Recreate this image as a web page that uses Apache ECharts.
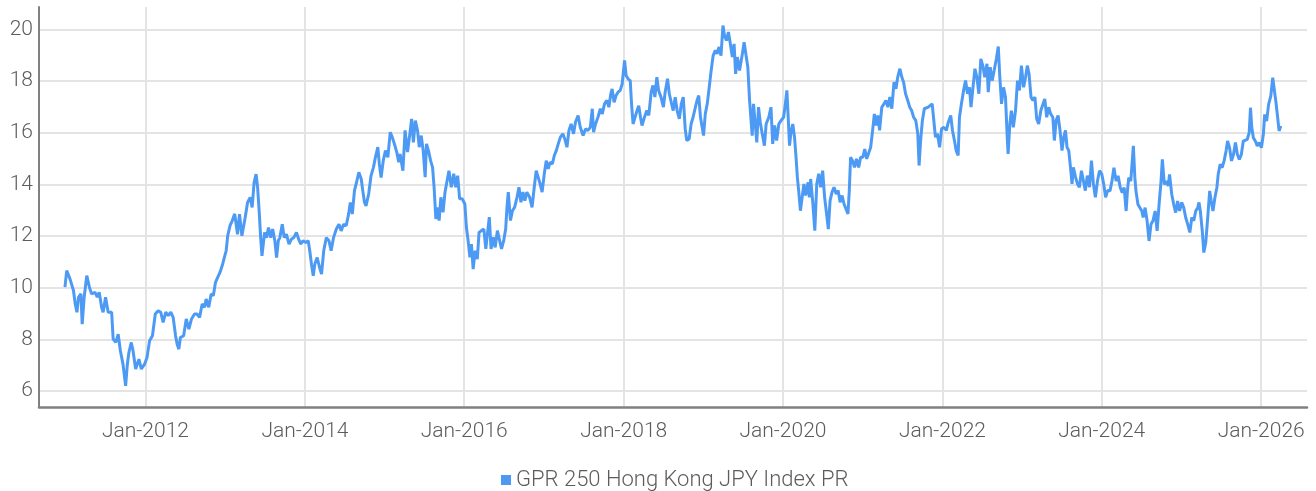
<!DOCTYPE html>
<html>
<head>
<meta charset="utf-8">
<script src="https://cdn.jsdelivr.net/npm/echarts@6/dist/echarts.min.js"></script>
<style>
html,body{margin:0;padding:0;background:#fff;}
#chart{width:1316px;height:491px;}
</style>
</head>
<body>
<div id="chart"></div>
<script>
const seriesName = 'GPR 250 Hong Kong JPY Index PR';
const xTickYears = [2012, 2014, 2016, 2018, 2020, 2022, 2024, 2026];
const monthNames = ['Jan','Feb','Mar','Apr','May','Jun','Jul','Aug','Sep','Oct','Nov','Dec'];
const yTicks = [6, 8, 10, 12, 14, 16, 18, 20];

const dates = [
'2010-12-28','2011-01-05','2011-01-20','2011-02-05','2011-02-13','2011-02-21','2011-02-28','2011-03-11','2011-03-17','2011-03-26',
'2011-04-07','2011-04-19','2011-04-29','2011-05-15','2011-05-25','2011-06-03','2011-06-14','2011-06-21','2011-07-02','2011-07-14',
'2011-07-30','2011-08-06','2011-08-18','2011-08-29','2011-09-08','2011-09-20','2011-10-02','2011-10-10','2011-10-17','2011-10-28',
'2011-11-05','2011-11-17','2011-12-02','2011-12-13','2011-12-28','2012-01-08','2012-01-20','2012-02-02','2012-02-15','2012-02-28',
'2012-03-11','2012-03-22','2012-04-03','2012-04-14','2012-04-26','2012-05-07','2012-05-18','2012-05-25','2012-06-02','2012-06-09',
'2012-06-24','2012-07-06','2012-07-18','2012-07-30','2012-08-13','2012-08-24','2012-09-05','2012-09-17','2012-09-28','2012-10-05',
'2012-10-17','2012-10-28','2012-11-07','2012-11-17','2012-11-27','2012-12-08','2012-12-20','2012-12-28','2013-01-05','2013-01-12',
'2013-01-23','2013-02-02','2013-02-13','2013-02-26','2013-03-07','2013-03-18','2013-04-02','2013-04-13','2013-04-25','2013-05-04',
'2013-05-13','2013-05-22','2013-05-29','2013-06-06','2013-06-12','2013-06-18','2013-06-24','2013-06-30','2013-07-09','2013-07-18',
'2013-07-28','2013-08-06','2013-08-16','2013-08-24','2013-09-01','2013-09-08','2013-09-19','2013-09-28','2013-10-08','2013-10-20',
'2013-10-31','2013-11-11','2013-11-23','2013-12-03','2013-12-13','2013-12-23','2014-01-05','2014-01-16','2014-01-23','2014-01-31',
'2014-02-08','2014-02-15','2014-02-26','2014-03-07','2014-03-18','2014-03-28','2014-04-09','2014-04-21','2014-05-01','2014-05-12',
'2014-05-25','2014-06-06','2014-06-16','2014-06-27','2014-07-09','2014-07-20','2014-07-28','2014-08-06','2014-08-16','2014-08-27',
'2014-09-05','2014-09-16','2014-09-23','2014-10-01','2014-10-08','2014-10-20','2014-10-31','2014-11-11','2014-11-20','2014-12-01',
'2014-12-08','2014-12-16','2014-12-26','2015-01-05','2015-01-16','2015-01-27','2015-02-05','2015-02-15','2015-02-26','2015-03-07',
'2015-03-13','2015-03-26','2015-04-05','2015-04-16','2015-04-25','2015-05-05','2015-05-13','2015-05-22','2015-06-01','2015-06-09',
'2015-06-18','2015-06-27','2015-07-06','2015-07-12','2015-07-21','2015-07-31','2015-08-09','2015-08-16','2015-08-24','2015-09-01',
'2015-09-08','2015-09-16','2015-09-26','2015-10-05','2015-10-14','2015-10-23','2015-11-03','2015-11-14','2015-11-23','2015-12-02',
'2015-12-11','2015-12-23','2016-01-04','2016-01-11','2016-01-19','2016-01-27','2016-02-03','2016-02-11','2016-02-20','2016-03-01',
'2016-03-09','2016-03-20','2016-03-31','2016-04-09','2016-04-18','2016-04-25','2016-05-03','2016-05-13','2016-05-22','2016-06-01',
'2016-06-09','2016-06-20','2016-06-30','2016-07-09','2016-07-15','2016-07-21','2016-07-31','2016-08-09','2016-08-19','2016-08-30',
'2016-09-08','2016-09-17','2016-09-26','2016-10-05','2016-10-14','2016-10-27','2016-11-07','2016-11-17','2016-11-26','2016-12-05',
'2016-12-14','2016-12-23','2017-01-02','2017-01-11','2017-01-20','2017-01-29','2017-02-08','2017-02-17','2017-02-26','2017-03-07',
'2017-03-17','2017-03-28','2017-04-06','2017-04-16','2017-04-25','2017-05-05','2017-05-16','2017-05-25','2017-06-06','2017-06-16',
'2017-06-29','2017-07-10','2017-07-21','2017-08-01','2017-08-10','2017-08-16','2017-08-25','2017-09-05','2017-09-16','2017-09-25',
'2017-10-05','2017-10-16','2017-10-25','2017-11-03','2017-11-09','2017-11-18','2017-11-27','2017-12-06','2017-12-16','2017-12-25',
'2018-01-05','2018-01-12','2018-01-21','2018-01-31','2018-02-06','2018-02-13','2018-02-22','2018-03-03','2018-03-11','2018-03-19',
'2018-03-26','2018-04-06','2018-04-17','2018-04-26','2018-05-07','2018-05-15','2018-05-24','2018-06-02','2018-06-10','2018-06-21',
'2018-07-02','2018-07-10','2018-07-21','2018-07-29','2018-08-07','2018-08-16','2018-08-25','2018-09-03','2018-09-13','2018-09-22',
'2018-10-01','2018-10-10','2018-10-17','2018-10-28','2018-11-06','2018-11-15','2018-11-24','2018-12-03','2018-12-11','2018-12-19',
'2018-12-25','2019-01-02','2019-01-10','2019-01-19','2019-01-28','2019-02-05','2019-02-15','2019-02-25','2019-03-05','2019-03-14',
'2019-03-23','2019-04-01','2019-04-08','2019-04-17','2019-04-26','2019-05-05','2019-05-14','2019-05-22','2019-05-29','2019-06-06',
'2019-06-16','2019-06-29','2019-07-07','2019-07-16','2019-07-24','2019-08-01','2019-08-09','2019-08-13','2019-08-19','2019-08-27',
'2019-09-03','2019-09-11','2019-09-19','2019-09-28','2019-10-08','2019-10-16','2019-10-28','2019-11-07','2019-11-15','2019-11-24',
'2019-12-03','2019-12-13','2019-12-23','2020-01-04','2020-01-12','2020-01-19','2020-01-25','2020-01-31','2020-02-08','2020-02-15',
'2020-02-23','2020-03-01','2020-03-07','2020-03-13','2020-03-21','2020-03-29','2020-04-06','2020-04-14','2020-04-25','2020-05-01',
'2020-05-07','2020-05-16','2020-05-26','2020-06-04','2020-06-13','2020-06-22','2020-07-01','2020-07-10','2020-07-19','2020-07-27',
'2020-08-04','2020-08-13','2020-08-22','2020-09-01','2020-09-10','2020-09-19','2020-09-28','2020-10-07','2020-10-16','2020-10-25',
'2020-10-31','2020-11-06','2020-11-15','2020-11-24','2020-12-03','2020-12-13','2020-12-22','2021-01-01','2021-01-10','2021-01-19',
'2021-01-28','2021-02-06','2021-02-15','2021-02-23','2021-03-03','2021-03-11','2021-03-19','2021-03-29','2021-04-08','2021-04-17',
'2021-04-26','2021-05-05','2021-05-14','2021-05-24','2021-06-02','2021-06-10','2021-06-20','2021-06-29','2021-07-07','2021-07-16',
'2021-07-26','2021-08-04','2021-08-13','2021-08-22','2021-09-01','2021-09-10','2021-09-16','2021-09-23','2021-10-01','2021-10-10',
'2021-10-19','2021-10-28','2021-11-15','2021-11-24','2021-11-30','2021-12-09','2021-12-19','2021-12-28','2022-01-08','2022-01-19',
'2022-01-28','2022-02-08','2022-02-16','2022-02-25','2022-03-05','2022-03-14','2022-03-20','2022-03-29','2022-04-08','2022-04-17',
'2022-04-26','2022-05-05','2022-05-12','2022-05-21','2022-05-30','2022-06-08','2022-06-17','2022-06-26','2022-07-05','2022-07-14',
'2022-07-24','2022-07-30','2022-08-08','2022-08-17','2022-08-26','2022-09-05','2022-09-14','2022-09-21','2022-09-29','2022-10-08',
'2022-10-17','2022-10-25','2022-10-29','2022-11-06','2022-11-13','2022-11-22','2022-12-02','2022-12-11','2022-12-20','2022-12-29',
'2023-01-08','2023-01-17','2023-01-25','2023-02-02','2023-02-11','2023-02-20','2023-03-01','2023-03-09','2023-03-18','2023-03-28',
'2023-04-06','2023-04-15','2023-04-24','2023-05-03','2023-05-12','2023-05-22','2023-05-29','2023-06-06','2023-06-15','2023-06-24',
'2023-07-03','2023-07-11','2023-07-19','2023-07-26','2023-08-03','2023-08-11','2023-08-18','2023-08-24','2023-09-03','2023-09-12',
'2023-09-21','2023-09-30','2023-10-09','2023-10-18','2023-10-27','2023-11-06','2023-11-15','2023-11-24','2023-12-03','2023-12-13',
'2023-12-22','2024-01-01','2024-01-10','2024-01-19','2024-01-28','2024-02-08','2024-02-17','2024-02-26','2024-03-07','2024-03-16',
'2024-03-26','2024-04-04','2024-04-13','2024-04-22','2024-04-28','2024-05-04','2024-05-13','2024-05-19','2024-05-25','2024-06-01',
'2024-06-06','2024-06-15','2024-06-24','2024-07-03','2024-07-09','2024-07-18','2024-07-27','2024-08-05','2024-08-14','2024-08-23',
'2024-09-02','2024-09-11','2024-09-20','2024-09-29','2024-10-05','2024-10-14','2024-10-23','2024-11-01','2024-11-07','2024-11-17',
'2024-11-26','2024-12-05','2024-12-14','2024-12-23','2025-01-02','2025-01-11','2025-01-20','2025-01-29','2025-02-08','2025-02-17',
'2025-02-26','2025-03-07','2025-03-16','2025-03-22','2025-03-28','2025-04-06','2025-04-13','2025-04-22','2025-05-01','2025-05-10',
'2025-05-17','2025-05-25','2025-06-03','2025-06-12','2025-06-18','2025-06-27','2025-07-06','2025-07-15','2025-07-24','2025-07-31',
'2025-08-09','2025-08-18','2025-08-27','2025-09-05','2025-09-14','2025-09-23','2025-10-02','2025-10-11','2025-10-20','2025-10-29',
'2025-11-07','2025-11-13','2025-11-19','2025-11-26','2025-12-05','2025-12-14','2025-12-23','2026-01-02','2026-01-11','2026-01-17',
'2026-01-26','2026-02-04','2026-02-14','2026-02-23','2026-03-03','2026-03-09','2026-03-16','2026-03-24','2026-04-01'
];

const values = [
10.02,10.66,10.34,9.89,9.37,9.05,9.63,9.76,8.59,9.63,
10.47,10.02,9.76,9.82,9.63,9.82,9.24,9.05,9.63,9.05,
9.05,8.01,7.88,8.20,7.56,7.04,6.20,7.04,7.49,7.88,
7.56,6.85,7.23,6.85,7.04,7.30,7.95,8.14,8.98,9.11,
9.05,8.66,9.05,8.92,9.05,8.85,8.14,7.82,7.62,8.07,
8.14,8.79,8.40,8.79,8.98,8.98,8.85,9.37,9.24,9.56,
9.24,9.76,9.69,10.21,10.40,10.60,10.92,11.18,11.44,12.02,
12.41,12.60,12.86,12.07,12.85,12.01,12.72,13.30,13.50,13.11,
14.08,14.40,13.89,12.85,11.94,11.23,11.69,12.14,11.94,12.33,
11.94,12.27,11.82,11.17,11.82,11.94,12.46,11.94,12.07,11.69,
11.88,11.94,12.14,11.88,11.69,11.82,11.75,11.82,11.43,10.91,
10.46,10.91,11.17,10.85,10.53,11.43,11.94,11.82,11.43,11.94,
12.27,12.46,12.20,12.46,12.40,12.85,13.30,12.85,13.76,14.14,
14.47,14.21,13.76,13.30,13.17,13.63,14.34,14.66,15.05,15.44,
14.79,14.27,14.92,15.31,15.05,16.02,15.83,15.57,15.24,14.86,
15.18,14.53,16.09,15.25,15.83,16.54,15.63,16.47,16.09,15.44,
15.89,15.31,14.28,15.57,15.31,14.92,14.66,13.89,12.66,13.11,
12.60,13.50,12.92,13.70,13.76,14.53,13.89,14.41,13.89,14.34,
13.44,13.44,13.24,12.34,11.82,11.18,11.69,10.72,11.43,11.11,
12.14,12.21,12.27,11.50,12.21,12.73,11.50,11.95,11.56,12.21,
12.27,11.50,11.82,12.27,13.11,13.70,12.60,12.98,13.11,13.50,
13.89,13.31,13.70,13.37,13.70,13.50,13.11,13.89,14.53,14.28,
14.02,13.70,14.41,14.92,14.60,14.86,14.79,15.12,15.31,15.57,
15.83,15.96,15.76,15.44,16.09,16.34,15.96,16.41,16.67,16.21,
15.89,16.15,16.09,16.21,16.93,16.02,16.34,16.60,16.93,16.73,
17.12,17.25,16.99,17.51,17.70,17.18,17.44,17.57,17.64,17.89,
18.80,18.22,18.09,18.02,17.12,16.34,16.28,16.86,17.05,16.60,
16.28,16.60,16.86,16.67,17.57,17.83,17.38,18.15,17.64,17.38,
16.99,17.57,18.09,17.51,17.18,16.86,17.38,16.86,16.54,17.12,
17.38,16.15,15.70,15.76,16.34,16.60,16.93,17.25,17.44,16.60,
16.54,15.89,16.73,17.12,17.76,18.35,18.99,19.19,19.06,19.32,
18.99,20.15,19.77,19.57,19.90,19.44,18.93,19.44,18.28,18.93,
18.41,19.06,19.51,18.99,18.54,17.25,16.34,15.89,17.12,16.34,
15.63,16.99,16.41,15.96,15.50,16.34,16.60,16.99,15.57,16.28,
15.70,16.34,16.47,16.60,17.12,17.64,16.60,15.50,16.09,16.34,
15.83,15.05,14.28,13.76,12.98,13.50,14.02,13.57,14.08,13.50,
14.21,13.37,12.21,14.02,14.41,13.89,14.53,13.50,12.86,12.27,
13.37,13.70,13.89,13.63,13.76,13.31,13.57,13.24,13.31,12.86,
13.76,15.05,14.92,14.66,14.99,14.66,15.05,15.05,15.37,14.99,
15.05,15.44,16.09,16.73,16.28,16.67,16.09,16.99,17.12,17.25,
16.99,17.38,16.93,17.96,17.70,18.15,18.48,18.15,17.96,17.51,
17.25,16.99,16.86,16.60,16.47,15.96,14.73,15.70,16.47,16.93,
16.86,16.99,17.12,16.34,15.83,15.96,15.44,16.15,16.21,16.09,
16.41,16.67,16.09,15.70,15.31,15.12,16.60,17.12,17.64,18.02,
17.51,17.76,16.99,17.76,18.48,18.15,17.51,18.86,18.60,18.15,
18.67,17.57,18.54,18.02,18.41,18.86,19.34,18.15,17.12,17.76,
17.38,15.83,15.18,16.34,16.86,16.21,16.86,18.02,17.64,18.60,
17.76,18.15,18.60,18.28,17.38,17.25,17.38,16.54,16.34,16.86,
16.86,17.31,16.60,16.99,16.73,16.60,15.70,16.47,16.67,16.09,
15.31,15.83,16.09,15.44,15.31,14.66,14.02,14.66,14.28,14.02,
13.89,14.53,14.15,13.76,14.34,13.89,14.92,14.02,13.50,14.15,
14.53,14.41,14.02,13.50,13.76,13.75,14.13,14.65,14.13,14.33,
13.88,13.68,13.88,12.97,13.75,14.26,14.13,14.78,15.49,14.26,
13.75,13.23,13.10,12.97,12.72,13.10,12.59,11.81,12.46,12.59,
12.97,12.20,13.23,14.13,14.97,14.00,14.13,13.94,14.39,13.62,
13.23,12.91,13.36,12.97,13.30,13.10,12.72,12.46,12.14,12.72,
12.59,12.97,13.10,13.30,12.97,12.20,11.36,11.75,12.72,13.75,
13.36,12.97,13.49,13.88,14.39,14.78,14.65,14.91,15.29,15.68,
15.42,14.91,15.16,15.62,15.16,14.97,15.16,15.68,15.62,15.74,
16.00,16.97,16.20,15.81,15.68,15.49,15.62,15.42,15.94,16.71,
16.45,17.10,17.42,18.13,17.61,17.23,16.71,16.07,16.26
];

const xMin = '2010-08-31';
const xMax = '2026-07-30';

const seriesData = dates.map((d, i) => [Date.parse(d), values[i]]);
const xTickValues = xTickYears.map(y => Date.UTC(y, 0, 1));

const labelFont = {
  fontFamily: "Roboto, 'DejaVu Sans Condensed', sans-serif",
  fontWeight: 300,
  fontSize: 21,
  color: '#5c5c5c'
};

const chart = echarts.init(document.getElementById('chart'), null, {renderer: 'canvas'});
chart.setOption({
  animation: false,
  backgroundColor: '#ffffff',
  grid: {left: 39, right: 9, top: 7, bottom: 84, containLabel: false, outerBoundsMode: 'none'},
  legend: {
    data: [seriesName],
    left: 496,
    top: 464,
    icon: 'rect',
    itemWidth: 10,
    itemHeight: 10,
    itemGap: 6,
    textStyle: Object.assign({}, labelFont, {fontSize: 22})
  },
  xAxis: {
    type: 'value',
    min: Date.parse(xMin),
    max: Date.parse(xMax),
    axisLine: {show: true, lineStyle: {color: '#808080', width: 2.5}},
    axisTick: {show: false, customValues: xTickValues},
    splitLine: {show: true, lineStyle: {color: '#e4e4e4', width: 2}},
    axisLabel: Object.assign({}, labelFont, {
      customValues: xTickValues,
      margin: 14,
      formatter: function (val) {
        const d = new Date(val);
        return monthNames[d.getUTCMonth()] + '-' + d.getUTCFullYear();
      }
    })
  },
  yAxis: {
    type: 'value',
    min: 5.38,
    max: 20.87,
    axisLine: {show: true, lineStyle: {color: '#808080', width: 2}},
    axisTick: {show: false, customValues: yTicks},
    splitLine: {show: true, lineStyle: {color: '#e4e4e4', width: 2}},
    axisLabel: Object.assign({}, labelFont, {customValues: yTicks, margin: 6})
  },
  series: [{
    name: seriesName,
    type: 'line',
    data: seriesData,
    showSymbol: false,
    symbol: 'none',
    lineStyle: {color: '#4d9af5', width: 3},
    itemStyle: {color: '#4d9af5'}
  }]
});
</script>
</body>
</html>
